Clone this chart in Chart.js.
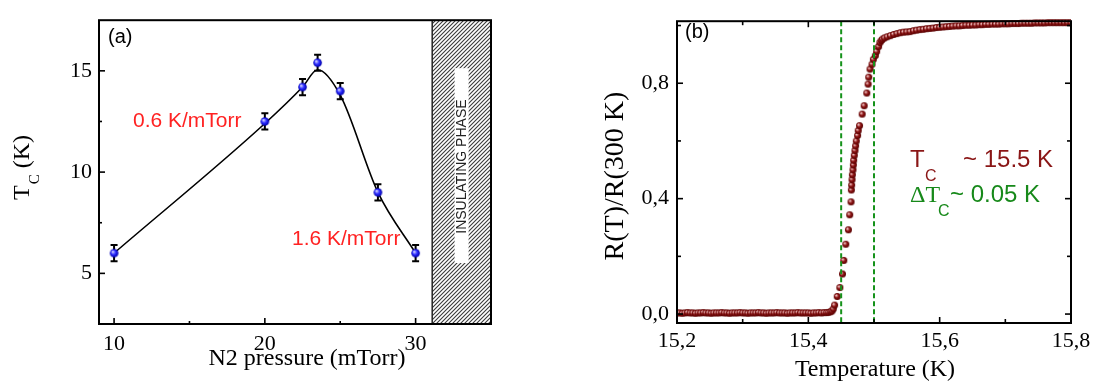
<!DOCTYPE html>
<html><head><meta charset="utf-8">
<script src="https://cdn.jsdelivr.net/npm/chart.js@4.4.1/dist/chart.umd.min.js"></script>
<style>
html,body{margin:0;padding:0;background:#fff;}
#wrap{position:relative;width:1096px;height:388px;overflow:hidden;background:#fff;}
#ca{position:absolute;left:0;top:0;}
#cb{position:absolute;left:540px;top:0;}
</style></head><body>
<div id="wrap">
<canvas id="ca" width="520" height="388"></canvas>
<canvas id="cb" width="556" height="388"></canvas>
</div>
<script>
// ---------- Panel (a) data ----------
const pressure = [10, 20, 22.5, 23.5, 25, 27.5, 30];
const tc = [6.0, 12.5, 14.2, 15.4, 14.0, 9.0, 6.0];
const tcErr = [0.4, 0.4, 0.4, 0.4, 0.4, 0.4, 0.4];
const fitPressure = [10, 20, 22.5, 23.5, 25, 27.5, 30];
const fitTc = [6.0, 12.4, 14.2, 15.05, 13.8, 9.0, 6.0];
const pressureTicks = [10, 20, 30];
const pressureMinor = [15, 25];
const tcTicks = [5, 10, 15];
const tcMinor = [7.5, 12.5];
const insulatingFrom = 31.1;

// ---------- Panel (b) data ----------
const temperature = [
 15.200,15.204,15.208,15.212,15.216,15.220,15.224,15.228,15.232,15.236,15.240,15.244,15.248,15.252,15.256,
 15.260,15.264,15.268,15.272,15.276,15.280,15.284,15.288,15.292,15.296,15.300,15.304,15.308,15.312,15.316,
 15.320,15.324,15.328,15.332,15.336,15.340,15.344,15.348,15.352,15.356,15.360,15.364,15.368,15.372,15.376,
 15.380,15.384,15.388,15.392,15.396,15.400,15.404,15.408,15.412,15.416,15.420,15.424,15.428,
 15.431,15.434,15.436,15.438,15.440,15.444,15.448,15.452,15.454,15.457,15.461,15.463,15.465,15.4655,15.466,
 15.4665,15.467,15.468,15.4685,15.469,15.470,15.471,15.472,15.473,15.475,15.476,15.478,15.482,15.485,15.489,
 15.491,15.492,15.494,15.497,15.499,15.502,15.504,15.507,15.509,15.511,15.513,15.516,
 15.520,15.525,15.530,15.535,15.540,15.545,15.550,15.555,15.560,15.565,15.570,15.575,15.580,15.585,15.590,
 15.595,15.600,15.605,15.610,15.615,15.620,15.625,15.630,15.635,15.640,15.645,15.650,15.655,15.660,15.665,
 15.670,15.675,15.680,15.685,15.690,15.695,15.700,15.705,15.710,15.715,15.720,15.725,15.730,15.735,15.740,
 15.745,15.750,15.755,15.760,15.765,15.770,15.775,15.780,15.785,15.790,15.795,15.800
];
const resistance = [
 0.004,0.004,0.003,0.004,0.005,0.004,0.004,0.003,0.004,0.004,0.005,0.004,0.004,0.003,0.004,
 0.004,0.004,0.005,0.004,0.004,0.003,0.004,0.004,0.004,0.005,0.004,0.004,0.003,0.004,0.004,
 0.004,0.005,0.004,0.004,0.003,0.004,0.004,0.004,0.005,0.004,0.004,0.004,0.003,0.004,0.004,
 0.004,0.005,0.004,0.004,0.004,0.004,0.003,0.004,0.004,0.005,0.004,0.005,0.005,
 0.006,0.008,0.011,0.018,0.031,0.061,0.092,0.139,0.186,0.242,0.292,0.344,0.389,0.430,0.447,
 0.466,0.483,0.500,0.517,0.533,0.550,0.567,0.583,0.600,0.619,0.636,0.653,0.693,0.722,0.766,
 0.797,0.821,0.849,0.866,0.883,0.896,0.910,0.927,0.941,0.948,0.953,0.957,
 0.961,0.965,0.969,0.972,0.975,0.977,0.978,0.979,0.982,0.984,0.986,0.987,0.989,0.990,0.991,
 0.993,0.994,0.995,0.996,0.997,0.998,0.999,0.999,1.000,1.001,1.001,1.002,1.002,1.003,1.003,
 1.004,1.004,1.005,1.005,1.005,1.006,1.006,1.006,1.007,1.007,1.007,1.008,1.008,1.008,1.008,
 1.009,1.009,1.009,1.009,1.010,1.010,1.010,1.010,1.010,1.010,1.010,1.010
];
const tempTicks = [15.2, 15.4, 15.6, 15.8];
const tempMinor = [15.3, 15.5, 15.7];
const ratioTicks = [0, 0.4, 0.8];
const ratioMinor = [0.2, 0.6, 1.0];
const tcLines = [15.45, 15.50];

const SERIF = "'Liberation Serif', 'Times New Roman', serif";
const SANS = "'Liberation Sans', Arial, sans-serif";
Chart.defaults.font.family = SERIF;
Chart.defaults.font.size = 22;
Chart.defaults.color = '#000';

function sphere(r, hi, mid, lo) {
  const c = document.createElement('canvas');
  const s = Math.ceil(r * 2) + 2; c.width = s; c.height = s;
  const g = c.getContext('2d');
  const cx = s / 2, cy = s / 2;
  const grad = g.createRadialGradient(cx - r * 0.35, cy - r * 0.35, r * 0.1, cx, cy, r);
  grad.addColorStop(0, hi); grad.addColorStop(0.5, mid); grad.addColorStop(1, lo);
  g.fillStyle = grad; g.beginPath(); g.arc(cx, cy, r, 0, Math.PI * 2); g.fill();
  return c;
}

function frameTicks(o) {
  return {
    id: 'frameTicks',
    afterDraw(chart) {
      const {ctx, chartArea: a, scales: {x, y}} = chart;
      ctx.save();
      ctx.strokeStyle = '#000';
      ctx.lineWidth = 1.6;
      const t = (px, py, dx, dy) => { ctx.beginPath(); ctx.moveTo(px, py); ctx.lineTo(px + dx, py + dy); ctx.stroke(); };
      o.xMajor.forEach(v => { const p = x.getPixelForValue(v); t(p, a.bottom, 0, -o.major); if (o.mirror) t(p, a.top, 0, o.major); });
      o.xMinor.forEach(v => { const p = x.getPixelForValue(v); t(p, a.bottom, 0, -o.minor); if (o.mirror) t(p, a.top, 0, o.minor); });
      o.yMajor.forEach(v => { const p = y.getPixelForValue(v); t(a.left, p, o.major, 0); if (o.mirror) t(a.right, p, -o.major, 0); });
      o.yMinor.forEach(v => { const p = y.getPixelForValue(v); t(a.left, p, o.minor, 0); if (o.mirror) t(a.right, p, -o.minor, 0); });
      ctx.lineWidth = 2;
      ctx.strokeRect(a.left, a.top, a.right - a.left, a.bottom - a.top);
      ctx.restore();
    }
  };
}

function fixedTicks(list) {
  return s => { s.ticks = list.map(v => ({value: v})); };
}

// ---------- Chart (a) ----------
const hatchPlugin = {
  id: 'hatch',
  beforeDatasetsDraw(chart) {
    const {ctx, chartArea: a, scales: {x}} = chart;
    const pc = document.createElement('canvas'); pc.width = 4; pc.height = 4;
    const pg = pc.getContext('2d');
    pg.fillStyle = '#ffffff'; pg.fillRect(0, 0, 4, 4);
    pg.strokeStyle = '#3a3a3a'; pg.lineWidth = 1.1;
    pg.beginPath(); pg.moveTo(-1, 5); pg.lineTo(5, -1); pg.moveTo(-1, 1); pg.lineTo(1, -1); pg.moveTo(3, 5); pg.lineTo(5, 3); pg.stroke();
    const x0 = x.getPixelForValue(insulatingFrom);
    ctx.save();
    ctx.fillStyle = ctx.createPattern(pc, 'repeat');
    ctx.fillRect(x0, a.top, a.right - x0, a.bottom - a.top);
    ctx.strokeStyle = '#222'; ctx.lineWidth = 1.5;
    ctx.beginPath(); ctx.moveTo(x0, a.top); ctx.lineTo(x0, a.bottom); ctx.stroke();
    const cx = (x0 + a.right) / 2;
    const bw = 14, bt = a.top + 48, bb = a.bottom - 61;
    ctx.fillStyle = '#fff';
    ctx.fillRect(cx - bw / 2, bt, bw, bb - bt);
    ctx.translate(cx, (bt + bb) / 2 + 1);
    ctx.rotate(-Math.PI / 2);
    ctx.fillStyle = '#222';
    ctx.font = '14px ' + SANS;
    ctx.textAlign = 'center'; ctx.textBaseline = 'middle';
    ctx.fillText('INSULATING PHASE', 0, 1);
    ctx.restore();
  }
};

const errorBars = {
  id: 'errorBars',
  beforeDatasetsDraw(chart) {
    const {ctx, scales: {x, y}} = chart;
    ctx.save();
    ctx.strokeStyle = '#000'; ctx.lineWidth = 2;
    pressure.forEach((p, i) => {
      const px = x.getPixelForValue(p);
      const y1 = y.getPixelForValue(tc[i] + tcErr[i]);
      const y2 = y.getPixelForValue(tc[i] - tcErr[i]);
      ctx.beginPath();
      ctx.moveTo(px, y1); ctx.lineTo(px, y2);
      ctx.moveTo(px - 3.5, y1); ctx.lineTo(px + 3.5, y1);
      ctx.moveTo(px - 3.5, y2); ctx.lineTo(px + 3.5, y2);
      ctx.stroke();
    });
    ctx.restore();
  }
};

const textA = {
  id: 'textA',
  afterDraw(chart) {
    const {ctx} = chart;
    ctx.save();
    ctx.fillStyle = '#000';
    ctx.font = '20px ' + SANS;
    ctx.textAlign = 'left'; ctx.textBaseline = 'alphabetic';
    ctx.fillText('(a)', 108, 43);
    ctx.fillStyle = '#ff2222';
    ctx.font = '21px ' + SANS;
    ctx.fillText('0.6 K/mTorr', 133, 127);
    ctx.fillText('1.6 K/mTorr', 292, 245);
    ctx.fillStyle = '#000';
    ctx.font = '24px ' + SERIF;
    ctx.textAlign = 'center';
    ctx.fillText('N2 pressure (mTorr)', 307, 365);
    ctx.translate(28.5, 200);
    ctx.rotate(-Math.PI / 2);
    ctx.textAlign = 'left';
    ctx.font = '24px ' + SERIF;
    ctx.fillText('T', 0, 0);
    let w = ctx.measureText('T').width;
    ctx.font = '15px ' + SERIF;
    ctx.fillText('C', w + 1, 10);
    w += 1 + ctx.measureText('C').width;
    ctx.font = '24px ' + SERIF;
    ctx.fillText(' (K)', w, 0);
    ctx.restore();
  }
};

new Chart(document.getElementById('ca'), {
  type: 'scatter',
  data: {
    datasets: [
      {
        data: pressure.map((p, i) => ({x: p, y: tc[i]})),
        pointStyle: sphere(4.3, '#d0d0ff', '#2a2aff', '#0000a8'),
        pointRadius: 4.3,
        showLine: false
      },
      {
        data: fitPressure.map((p, i) => ({x: p, y: fitTc[i]})),
        showLine: true,
        borderColor: '#000',
        borderWidth: 1.6,
        pointRadius: 0,
        cubicInterpolationMode: 'monotone',
        fill: false
      }
    ]
  },
  options: {
    responsive: false, animation: false, devicePixelRatio: 1,
    layout: {padding: {top: 9, right: 29, left: 0, bottom: 0}},
    plugins: {legend: {display: false}, tooltip: {enabled: false}},
    scales: {
      x: {
        type: 'linear', min: 9, max: 35,
        afterBuildTicks: fixedTicks(pressureTicks),
        afterFit: s => { s.height = 64; },
        grid: {display: false, drawTicks: false},
        border: {display: false},
        ticks: {autoSkip: false, maxRotation: 0, padding: 7, color: '#000', font: {family: SERIF, size: 22}, callback: v => String(v)}
      },
      y: {
        type: 'linear', min: 2.5, max: 17.5,
        afterBuildTicks: fixedTicks(tcTicks),
        afterFit: s => { s.width = 99; },
        grid: {display: false, drawTicks: false},
        border: {display: false},
        ticks: {autoSkip: false, padding: 7, color: '#000', font: {family: SERIF, size: 22}, callback: v => String(v)}
      }
    }
  },
  plugins: [hatchPlugin, errorBars, textA, frameTicks({xMajor: pressureTicks, xMinor: pressureMinor, yMajor: tcTicks, yMinor: tcMinor, major: 6, minor: 3, mirror: false})]
});

// ---------- Chart (b) ----------
const dashLines = {
  id: 'dashLines',
  afterDatasetsDraw(chart) {
    const {ctx, chartArea: a, scales: {x}} = chart;
    ctx.save();
    ctx.strokeStyle = '#15921a'; ctx.lineWidth = 2; ctx.setLineDash([5, 3]);
    tcLines.forEach(v => {
      const p = x.getPixelForValue(v);
      ctx.beginPath(); ctx.moveTo(p, a.top); ctx.lineTo(p, a.bottom); ctx.stroke();
    });
    ctx.restore();
  }
};

const textB = {
  id: 'textB',
  afterDraw(chart) {
    const {ctx} = chart;
    const ox = 540;
    ctx.save();
    ctx.textAlign = 'left'; ctx.textBaseline = 'alphabetic';
    ctx.fillStyle = '#000';
    ctx.font = '20px ' + SANS;
    ctx.fillText('(b)', 685 - ox, 38);
    ctx.fillStyle = '#8a1616';
    ctx.font = '24px ' + SANS;
    ctx.fillText('T', 910 - ox, 167);
    ctx.font = '16px ' + SANS;
    ctx.fillText('C', 925 - ox, 181);
    ctx.font = '24px ' + SANS;
    ctx.fillText('~ 15.5 K', 963 - ox, 167);
    ctx.fillStyle = '#17891a';
    ctx.font = '24px ' + SERIF;
    ctx.fillText('\u0394T', 910 - ox, 202);
    ctx.font = '16px ' + SANS;
    ctx.fillText('C', 938 - ox, 216);
    ctx.font = '24px ' + SANS;
    ctx.fillText('~ 0.05 K', 950 - ox, 202);
    ctx.fillStyle = '#000';
    ctx.font = '24px ' + SERIF;
    ctx.textAlign = 'center';
    ctx.fillText('Temperature (K)', 875 - ox, 376);
    ctx.translate(623 - ox, 176);
    ctx.rotate(-Math.PI / 2);
    ctx.font = '28px ' + SERIF;
    ctx.fillText('R(T)/R(300 K)', 0, 0);
    ctx.restore();
  }
};

const comma = v => v.toFixed(1).replace('.', ',');

new Chart(document.getElementById('cb'), {
  type: 'scatter',
  data: {
    datasets: [{
      data: temperature.map((t, i) => ({x: t, y: resistance[i]})),
      pointStyle: sphere(3.5, '#f2c8c8', '#8c1212', '#560000'),
      pointRadius: 3.5,
      showLine: false,
      clip: {left: 0, top: 3, right: 0, bottom: 0}
    }]
  },
  options: {
    responsive: false, animation: false, devicePixelRatio: 1,
    layout: {padding: {top: 8, right: 25, left: 0, bottom: 0}},
    plugins: {legend: {display: false}, tooltip: {enabled: false}},
    scales: {
      x: {
        type: 'linear', min: 15.2, max: 15.8,
        afterBuildTicks: fixedTicks(tempTicks),
        afterFit: s => { s.height = 65; },
        grid: {display: false, drawTicks: false},
        border: {display: false},
        ticks: {autoSkip: false, maxRotation: 0, padding: 5, color: '#000', font: {family: SERIF, size: 22}, callback: comma}
      },
      y: {
        type: 'linear', min: -0.031, max: 1.015,
        afterBuildTicks: fixedTicks(ratioTicks),
        afterFit: s => { s.width = 137; },
        grid: {display: false, drawTicks: false},
        border: {display: false},
        ticks: {autoSkip: false, padding: 8, color: '#000', font: {family: SERIF, size: 22}, callback: comma}
      }
    }
  },
  plugins: [dashLines, textB, frameTicks({xMajor: tempTicks, xMinor: tempMinor, yMajor: ratioTicks, yMinor: ratioMinor, major: 6, minor: 4, mirror: true})]
});
</script>
</body></html>
